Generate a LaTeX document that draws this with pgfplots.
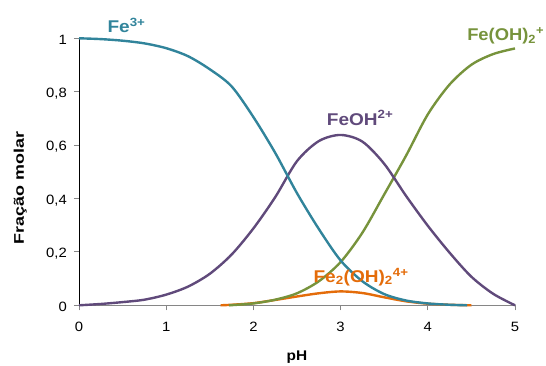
\documentclass[border=0pt]{standalone}
\usepackage{fontspec}
\setmainfont{Liberation Sans}
\usepackage{pgfplots}
\pgfplotsset{compat=1.18}
\definecolor{cTeal}{HTML}{31849B}
\definecolor{cPurple}{HTML}{604A7B}
\definecolor{cGreen}{HTML}{77933C}
\definecolor{cOrange}{HTML}{E46C0A}
\definecolor{cAxisGray}{HTML}{868686}
\begin{document}
\begin{tikzpicture}
\path[use as bounding box] (-79pt,-59.7pt) rectangle (467pt,305.3pt);
\begin{axis}[
  at={(0pt,0pt)}, anchor=south west,
  scale only axis, width=436pt, height=267pt,
  xmin=0, xmax=5, ymin=0, ymax=1,
  axis x line=bottom, axis y line=left,
  axis line style={-},
  x axis line style={cAxisGray, line width=1pt},
  y axis line style={black, line width=0.9pt},
  xtick={0,1,2,3,4,5},
  ytick={0,0.2,0.4,0.6,0.8,1},
  tick align=outside,
  major tick length=5pt,
  tick style={cAxisGray, line width=0.9pt},
  /pgf/number format/use comma,
  /pgf/number format/1000 sep={},
  /pgf/number format/assume math mode=true,
  tick label style={font=\fontsize{13.5}{16}\selectfont, xscale=1.1},
  xticklabel style={yshift=-8pt},
  yticklabel style={xshift=-3pt, yshift=-2pt},
  xlabel={pH},
  ylabel={Fração molar},
  every axis x label/.style={at={(axis description cs:0.5,-0.194)}, anchor=center, font=\bfseries\fontsize{14}{16}\selectfont, xscale=1.1},
  every axis y label/.style={at={(axis description cs:-0.135,0.439)}, anchor=center, rotate=90, font=\bfseries\fontsize{14}{16}\selectfont, xscale=1.28},
  clip=false,
]
% Fe2(OH)2 4+
\addplot[cOrange, line width=2.4pt, smooth, line join=round] coordinates {
 (1.625,0) (1.75,0.002) (2.0,0.008) (2.25,0.02) (2.5,0.033) (2.75,0.045) (3.0,0.052)
 (3.25,0.046) (3.5,0.03) (3.75,0.015) (4.0,0.006) (4.25,0.002) (4.5,0.0)
};
% Fe(OH)2+
\addplot[cGreen, line width=2.4pt, smooth, line join=round] coordinates {
 (1.72,0) (2.0,0.007) (2.25,0.021) (2.5,0.045) (2.75,0.09) (3.0,0.162)
 (3.25,0.272) (3.5,0.415) (3.75,0.56) (4.0,0.715) (4.25,0.827)
 (4.5,0.901) (4.75,0.941) (5.0,0.962)
};
% FeOH2+
\addplot[cPurple, line width=2.4pt, smooth, line join=round] coordinates {
 (0,0) (0.25,0.005) (0.5,0.012) (0.75,0.021) (1.0,0.04) (1.25,0.07) (1.5,0.118)
 (1.75,0.19) (2.0,0.288) (2.25,0.405) (2.5,0.54) (2.75,0.615) (3.0,0.638)
 (3.25,0.613) (3.5,0.53) (3.75,0.41) (4.0,0.298) (4.25,0.197) (4.5,0.107)
 (4.75,0.043) (5.0,0.0)
};
% Fe3+
\addplot[cTeal, line width=2.4pt, smooth, line join=round] coordinates {
 (0,1.0) (0.25,0.997) (0.5,0.991) (0.75,0.981) (1.0,0.963) (1.25,0.933) (1.5,0.884)
 (1.75,0.82) (2.0,0.705) (2.25,0.571) (2.5,0.42) (2.75,0.286) (3.0,0.168)
 (3.25,0.09) (3.5,0.042) (3.75,0.018) (4.0,0.007) (4.25,0.002) (4.45,0.0)
};
\node[anchor=base west, text=cTeal, font=\bfseries\fontsize{17}{20}\selectfont, xscale=1.12, inner sep=0pt] at (axis cs:0.325,1.0225) {Fe\textsuperscript{3+}};
\node[anchor=base west, text=cPurple, font=\bfseries\fontsize{17}{20}\selectfont, xscale=1.12, inner sep=0pt] at (axis cs:2.84,0.675) {FeOH\textsuperscript{2+}};
\node[anchor=base west, text=cGreen, font=\bfseries\fontsize{17}{20}\selectfont, xscale=1.08, inner sep=0pt] at (axis cs:4.45,0.99) {Fe(OH)\textsubscript{2}\textsuperscript{+}};
\node[anchor=base west, text=cOrange, font=\bfseries\fontsize{17}{20}\selectfont, xscale=1.12, inner sep=0pt] at (axis cs:2.687,0.086) {Fe\textsubscript{2}(OH)\textsubscript{2}\textsuperscript{4+}};
\end{axis}
\end{tikzpicture}
\end{document}
